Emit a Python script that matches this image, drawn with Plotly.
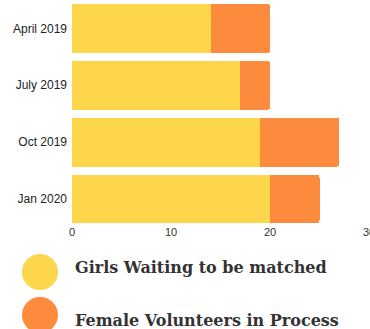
import plotly.graph_objects as go

categories = ["April 2019", "July 2019", "Oct 2019", "Jan 2020"]
girls_waiting = [14, 17, 19, 20]
volunteers = [6, 3, 8, 5]
x_ticks = [0, 10, 20, 30]
legend_labels = ["Girls Waiting to be matched", "Female Volunteers in Process"]

yellow = "#FDD64C"
orange = "#FC8B3E"

fig = go.Figure()
fig.add_trace(go.Bar(y=categories, x=girls_waiting, orientation="h",
                     marker=dict(color=yellow, line=dict(width=0)), name=legend_labels[0]))
fig.add_trace(go.Bar(y=categories, x=volunteers, orientation="h",
                     marker=dict(color=orange, line=dict(width=0)), name=legend_labels[1]))

H = 329
T, B = 0, 105
PH = H - T - B

fig.update_layout(
    width=370, height=H,
    margin=dict(l=72, r=1, t=T, b=B, autoexpand=False),
    barmode="stack", bargap=0.14, barcornerradius=3,
    showlegend=False,
    plot_bgcolor="white", paper_bgcolor="white",
    font=dict(family="Liberation Sans, Arial", size=11, color="#333333"),
    xaxis=dict(range=[0, 30], tickvals=x_ticks, showgrid=False, zeroline=False,
               showline=False, ticks="", ticklabeloverflow="allow", automargin=False,
               tickfont=dict(size=11, color="#333333")),
    yaxis=dict(range=[3.44, -0.5], showgrid=False, ticks="", ticklabelstandoff=4,
               automargin=False, tickfont=dict(size=12, color="#222222")),
)

colors = [yellow, orange]
circle_y = [272, 315]
text_y = [267.5, 320]
for lab, c, yc, yt in zip(legend_labels, colors, circle_y, text_y):
    fig.add_shape(type="circle", xref="paper", yref="paper",
                  x0=(22 - 72) / 297, x1=(58 - 72) / 297,
                  y0=(H - B - (yc + 18)) / PH, y1=(H - B - (yc - 18)) / PH,
                  fillcolor=c, line=dict(width=0), layer="above")
    fig.add_annotation(xref="paper", yref="paper", x=(73 - 72) / 297,
                       y=(H - B - yt) / PH, xanchor="left", yanchor="middle",
                       text=lab, showarrow=False,
                       font=dict(family="DejaVu Serif", size=16, weight="bold",
                                 color="#333333"))

fig.write_html("out.html")
